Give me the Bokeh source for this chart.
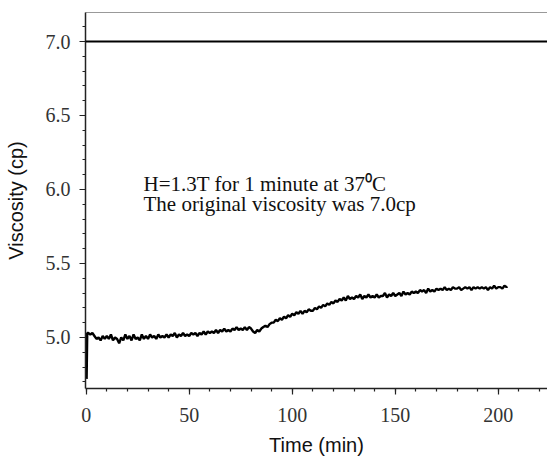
from bokeh.plotting import figure
from bokeh.models import Range1d, Span, Label, LinearAxis, SingleIntervalTicker, FixedTicker, PrintfTickFormatter
from bokeh.embed import file_html
from bokeh.resources import INLINE

# Data
time_min = [0.2, 0.5] + list(range(1, 205)) + [204.4]
viscosity = [4.72, 5.03,
    5.03, 5.02, 5.03, 5.01, 4.99, 5.00, 4.98, 5.01, 4.99, 5.01,
    4.99, 5.02, 4.98, 5.00, 4.99, 4.96, 5.00, 4.98, 5.02, 4.99,
    5.01, 4.98, 5.02, 4.99, 5.00, 4.98, 5.02, 4.99, 5.01, 4.99,
    5.02, 5.00, 5.01, 4.99, 5.02, 5.00, 5.01, 5.00, 5.02, 5.00,
    5.02, 5.01, 5.03, 5.00, 5.02, 5.01, 5.03, 5.01, 5.02, 5.01,
    5.03, 5.02, 5.03, 5.01, 5.03, 5.02, 5.04, 5.02, 5.04, 5.03,
    5.04, 5.03, 5.05, 5.03, 5.05, 5.04, 5.06, 5.04, 5.05, 5.04,
    5.06, 5.05, 5.07, 5.05, 5.06, 5.05, 5.07, 5.05, 5.07, 5.06,
    5.04, 5.03, 5.05, 5.04, 5.06, 5.07, 5.08, 5.07, 5.09, 5.10,
    5.10, 5.12, 5.11, 5.13, 5.12, 5.14, 5.13, 5.15, 5.14, 5.16,
    5.15, 5.17, 5.16, 5.18, 5.16, 5.18, 5.17, 5.19, 5.18, 5.18,
    5.20, 5.19, 5.21, 5.20, 5.22, 5.21, 5.23, 5.22, 5.24, 5.23,
    5.25, 5.24, 5.26, 5.25, 5.27, 5.25, 5.28, 5.26, 5.27, 5.26,
    5.28, 5.27, 5.29, 5.26, 5.28, 5.27, 5.29, 5.27, 5.28, 5.27,
    5.29, 5.27, 5.28, 5.28, 5.30, 5.27, 5.29, 5.28, 5.30, 5.28,
    5.29, 5.30, 5.28, 5.31, 5.29, 5.30, 5.29, 5.31, 5.30, 5.31,
    5.30, 5.32, 5.31, 5.32, 5.30, 5.33, 5.31, 5.32, 5.31, 5.33,
    5.32, 5.33, 5.32, 5.34, 5.32, 5.33, 5.32, 5.34, 5.33, 5.33,
    5.34, 5.32, 5.33, 5.34, 5.33, 5.34, 5.32, 5.34, 5.33, 5.34,
    5.33, 5.34, 5.33, 5.34, 5.32, 5.34, 5.33, 5.35, 5.33, 5.34,
    5.34, 5.33, 5.35, 5.34, 5.345]
original_viscosity = 7.0
annotation_lines = ["H=1.3T for 1 minute at 37\u2070C", "The original viscosity was 7.0cp"]

p = figure(width=547, height=459, output_backend="svg", toolbar_location=None,
           x_range=Range1d(-0.34, 223.9), y_range=Range1d(4.655, 7.196),
           min_border_left=85, min_border_right=0, min_border_top=12, min_border_bottom=71,
           background_fill_color="white", border_fill_color="white")
p.grid.visible = False
p.outline_line_color = None

p.xaxis.ticker = SingleIntervalTicker(interval=50, num_minor_ticks=5)
p.yaxis.ticker = SingleIntervalTicker(interval=0.5, num_minor_ticks=5)
p.yaxis.formatter = PrintfTickFormatter(format="%.1f")

for ax in (p.xaxis[0], p.yaxis[0]):
    ax.axis_line_color = "#222222"
    ax.axis_line_width = 1.5
    ax.major_tick_line_color = "#222222"
    ax.minor_tick_line_color = "#222222"
    ax.major_tick_line_width = 1.2
    ax.minor_tick_line_width = 1.2
    ax.major_tick_in = 0
    ax.major_tick_out = 6
    ax.minor_tick_in = 0
    ax.minor_tick_out = 3
    ax.major_label_text_font = "Liberation Serif"
    ax.major_label_text_font_size = "20px"
    ax.major_label_text_color = "#333333"
    ax.axis_label_text_font = "Liberation Sans"
    ax.axis_label_text_font_size = "20px"
    ax.axis_label_text_font_style = "normal"
    ax.axis_label_text_color = "#111111"

p.xaxis.axis_label = "Time (min)"
p.yaxis.axis_label = "Viscosity (cp)"
p.xaxis.major_label_standoff = 13
p.yaxis.major_label_standoff = 9
p.xaxis.axis_label_standoff = 9
p.yaxis.axis_label_standoff = 16

top = LinearAxis(ticker=FixedTicker(ticks=[]), axis_line_color="#999999", axis_line_width=1,
                 major_tick_line_color=None, minor_tick_line_color=None,
                 major_label_standoff=0)
p.add_layout(top, "above")

p.add_layout(Span(location=original_viscosity, dimension="width", line_color="black", line_width=1.8))

p.line(time_min, viscosity, line_color="black", line_width=2.4)

p.add_layout(Label(x=27.8, y=6.04, text=annotation_lines[0], text_font="Liberation Serif",
                   text_font_size="21px", text_color="#111111", text_baseline="alphabetic"))
p.add_layout(Label(x=27.8, y=5.905, text=annotation_lines[1], text_font="Liberation Serif",
                   text_font_size="21px", text_color="#111111", text_baseline="alphabetic"))

open("out.html", "w").write(file_html(p, INLINE))
